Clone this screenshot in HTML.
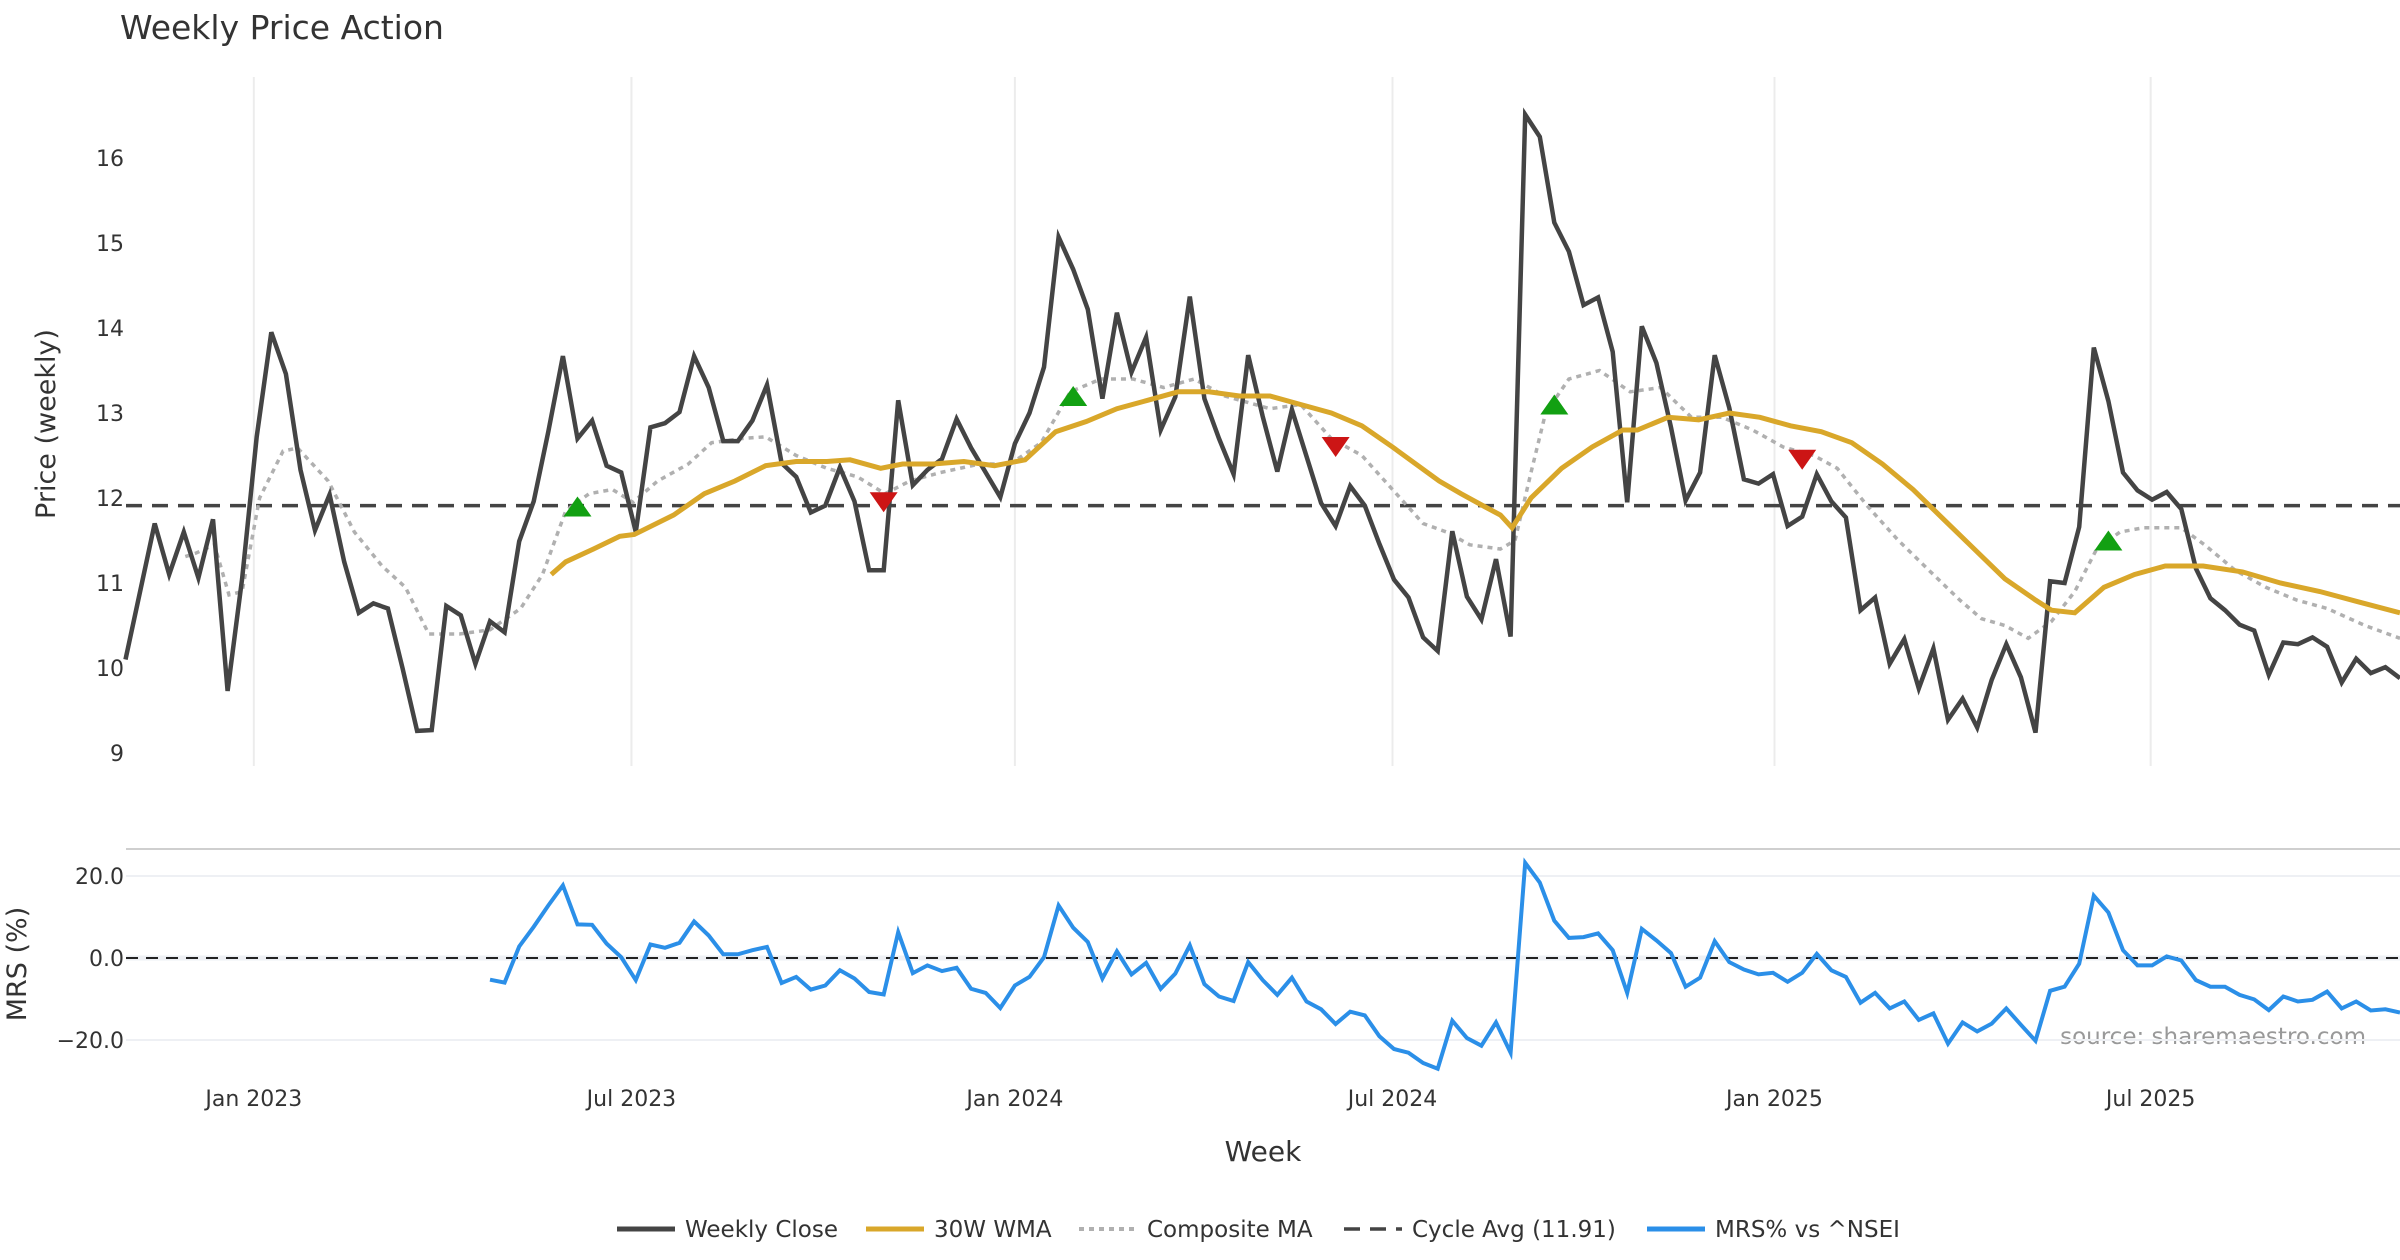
<!DOCTYPE html>
<html><head><meta charset="utf-8">
<style>
html,body{margin:0;padding:0;background:#fff;}
svg{display:block;font-family:"DejaVu Sans","Liberation Sans",sans-serif;}
</style></head>
<body>
<svg id="chart" width="2400" height="1260" viewBox="0 0 2400 1260" xmlns="http://www.w3.org/2000/svg">
<text x="120" y="39" font-size="33" fill="#333">Weekly Price Action</text>
<text transform="translate(55,424) rotate(-90)" text-anchor="middle" font-size="27" fill="#333">Price (weekly)</text>
<text transform="translate(26,964) rotate(-90)" text-anchor="middle" font-size="27" fill="#333">MRS (%)</text>
<text x="1263" y="1161" text-anchor="middle" font-size="28" fill="#333">Week</text>
<line x1="126" y1="849" x2="2400" y2="849" stroke="#cfcfcf" stroke-width="2"/>
<text x="2366" y="1044" text-anchor="end" font-size="23" fill="#999">source: sharemaestro.com</text>
<g id="grid"></g><g id="marks"></g><g id="legend"></g>
</svg>
<script>
const closeVals=[10.10,10.9,11.70,11.10,11.60,11.06,11.75,9.73,11.05,12.72,13.95,13.46,12.33,11.62,12.04,11.25,10.65,10.76,10.70,10.0,9.26,9.27,10.73,10.62,10.05,10.55,10.42,11.49,11.96,12.78,13.67,12.70,12.91,12.38,12.30,11.60,12.83,12.88,13.01,13.67,13.30,12.67,12.67,12.91,13.33,12.41,12.25,11.83,11.91,12.36,11.96,11.15,11.15,13.15,12.15,12.33,12.46,12.93,12.59,12.30,12.01,12.64,13.0,13.54,15.07,14.69,14.22,13.17,14.18,13.48,13.89,12.80,13.19,14.37,13.17,12.70,12.28,13.68,12.96,12.31,13.04,12.49,11.94,11.67,12.14,11.91,11.46,11.04,10.83,10.36,10.20,11.61,10.84,10.57,11.28,10.37,16.51,16.25,15.24,14.90,14.27,14.36,13.72,11.95,14.02,13.59,12.83,11.97,12.30,13.68,13.06,12.22,12.17,12.28,11.67,11.78,12.28,11.96,11.77,10.68,10.83,10.05,10.34,9.76,10.23,9.39,9.64,9.30,9.86,10.28,9.89,9.24,11.02,11.0,11.66,13.77,13.14,12.30,12.09,11.98,12.07,11.87,11.17,10.82,10.68,10.51,10.44,9.92,10.30,10.28,10.36,10.25,9.83,10.11,9.94,10.01,9.88];
const wmaWeeks=[29.2,30.2,32.1,33.9,34.9,37.6,39.7,41.8,43.9,46.0,48.1,49.7,51.8,53.3,55.4,57.5,59.6,61.7,63.8,65.9,68.0,70.1,72.2,74.3,76.4,78.5,80.6,82.7,84.8,86.9,88.5,90.1,91.6,93.2,94.3,95.1,96.4,98.5,100.6,102.7,103.7,105.8,107.9,110.0,112.1,114.2,116.3,118.4,120.5,122.6,124.7,126.8,128.9,131.0,132.1,133.7,135.7,137.8,139.9,142.5,145.2,147.8,150.5,153.1,156];
const wmaVals=[11.1,11.25,11.4,11.55,11.57,11.8,12.05,12.2,12.38,12.43,12.43,12.45,12.35,12.4,12.4,12.43,12.38,12.45,12.78,12.9,13.05,13.15,13.25,13.25,13.2,13.2,13.1,13.0,12.85,12.6,12.4,12.2,12.05,11.9,11.8,11.65,12.0,12.35,12.6,12.8,12.8,12.95,12.92,13.0,12.95,12.85,12.78,12.65,12.4,12.1,11.75,11.4,11.05,10.8,10.68,10.65,10.95,11.1,11.2,11.2,11.13,11.0,10.9,10.78,10.65];
const compWeeks=[4.1,4.8,6.1,7.1,8.0,9.2,10.8,11.8,13.9,15.7,17.6,19.2,20.8,22.9,25.0,27.1,28.6,30.2,31.8,33.4,34.8,36.5,38.6,40.2,42.3,43.9,46.0,48.1,50.2,52.1,53.8,55.9,58.6,60.7,62.8,64.8,66.9,69.1,71.2,73.3,75.4,78.5,80.6,82.7,84.8,86.9,89.0,90.6,92.2,94.3,95.3,96.4,97.4,99.0,101.1,103.2,105.3,107.4,109.5,111.6,113.7,115.8,117.4,119.5,121.6,123.7,125.8,127.3,128.9,130.5,132.1,133.7,135.2,136.8,138.4,141.0,142.6,144.7,146.8,148.9,151.0,153.6,156];
const compVals=[11.31,11.35,11.45,10.86,10.9,12.0,12.55,12.59,12.2,11.6,11.2,10.95,10.4,10.4,10.45,10.7,11.1,11.85,12.05,12.1,11.95,12.2,12.4,12.65,12.7,12.72,12.5,12.35,12.25,12.05,12.2,12.3,12.4,12.4,12.65,13.25,13.4,13.4,13.3,13.4,13.2,13.05,13.1,12.7,12.5,12.1,11.7,11.6,11.45,11.4,11.5,12.3,13.0,13.4,13.5,13.25,13.3,12.95,12.95,12.8,12.6,12.5,12.35,11.9,11.5,11.15,10.8,10.58,10.5,10.35,10.55,10.9,11.4,11.6,11.65,11.65,11.45,11.15,10.95,10.8,10.7,10.5,10.35];
const mrsStart=25;
const mrsVals=[-5.3,-6.0,2.8,7.6,12.8,17.7,8.2,8.1,3.5,0.2,-5.4,3.3,2.5,3.7,8.9,5.5,0.9,0.9,1.9,2.7,-6.1,-4.6,-7.7,-6.7,-3.0,-5.0,-8.3,-8.9,6.3,-3.7,-1.8,-3.2,-2.4,-7.5,-8.5,-12.2,-6.7,-4.6,0.2,12.8,7.4,3.9,-5.0,1.6,-4.0,-1.2,-7.5,-3.8,3.1,-6.4,-9.4,-10.5,-1.0,-5.4,-9.0,-4.8,-10.6,-12.5,-16.1,-13.1,-14.0,-19.1,-22.2,-23.1,-25.6,-27.0,-15.3,-19.5,-21.4,-15.7,-23.1,23.2,18.4,9.1,4.9,5.1,6.0,1.9,-8.5,7.1,4.3,1.2,-7.0,-4.8,4.1,-1.0,-2.8,-4.0,-3.6,-5.8,-3.6,1.0,-3.0,-4.6,-10.9,-8.5,-12.3,-10.6,-15.1,-13.5,-20.9,-15.7,-17.9,-16.0,-12.3,-16.3,-20.2,-8.0,-7.0,-1.4,15.2,11.1,1.9,-1.8,-1.8,0.4,-0.6,-5.4,-7.0,-7.0,-9.0,-10.1,-12.7,-9.4,-10.6,-10.2,-8.2,-12.3,-10.6,-12.8,-12.5,-13.3];
const buyWeeks=[31,65,98,136];
const buyVals=[11.9,13.2,13.1,11.5];
const sellWeeks=[52,83,115];
const sellVals=[11.95,12.6,12.45];
const cycleAvg=11.91;
const priceTicks=[9,10,11,12,13,14,15,16];
const mrsTicks=[20,0,-20];
const mrsTickLabels=["20.0","0.0","\u221220.0"];
const xTickLabels=["Jan 2023","Jul 2023","Jan 2024","Jul 2024","Jan 2025","Jul 2025"];
const xTickWeeks=[8.8,34.7,61.0,86.9,113.1,138.9];

const NS="http://www.w3.org/2000/svg";
const xs=k=>125.5+14.58*k;
const yp=v=>158+(16-v)*85;
const ym=v=>958-v*4.1;
function mk(tag,attrs,parent,text){const e=document.createElementNS(NS,tag);for(const a in attrs)e.setAttribute(a,attrs[a]);if(text!==undefined)e.textContent=text;parent.appendChild(e);return e;}
const grid=document.getElementById('grid'),marks=document.getElementById('marks'),legend=document.getElementById('legend');

xTickWeeks.forEach((w,i)=>{
  const g=mk('line',{x1:xs(w),x2:xs(w),y1:77,y2:766,stroke:'#ececec','stroke-width':2},grid);
  
  
  const t=mk('text',{x:xs(w),y:1106,'text-anchor':'middle','font-size':22,fill:'#333'},grid,xTickLabels[i]);
  
  
});
priceTicks.forEach(v=>{
  const t=mk('text',{x:124,y:yp(v)+8,'text-anchor':'end','font-size':22,fill:'#333'},grid,String(v));
  
  
});
mrsTicks.forEach((v,i)=>{
  const l=mk('line',{x1:126,x2:2400,y1:ym(v),y2:ym(v),stroke:'#eef0f4','stroke-width':v===0?5:2},grid);
  
  
  const t=mk('text',{x:124,y:ym(v)+8,'text-anchor':'end','font-size':22,fill:'#333'},grid,mrsTickLabels[i]);
  
  
});
const zl=mk('line',{x1:126,x2:2400,y1:ym(0),y2:ym(0),stroke:'#222','stroke-width':2,'stroke-dasharray':'12,8'},grid);



const ca=mk('line',{x1:126,x2:2400,y1:yp(cycleAvg),y2:yp(cycleAvg),stroke:'#444','stroke-width':3.5,'stroke-dasharray':'16,10'},marks);



function pathFrom(ws,vs,fy){return vs.map((v,i)=>(i?'L':'M')+xs(ws[i]).toFixed(1)+','+fy(v).toFixed(1)).join(' ');}
const comp=mk('path',{d:pathFrom(compWeeks,compVals,yp),fill:'none',stroke:'#b0b0b0','stroke-width':3.5,'stroke-dasharray':'5,5'},marks);


const cl=mk('path',{d:pathFrom(closeVals.map((_,i)=>i),closeVals,yp),fill:'none',stroke:'#444','stroke-width':4.5,'stroke-linejoin':'miter'},marks);


const wl=mk('path',{d:pathFrom(wmaWeeks,wmaVals,yp),fill:'none',stroke:'#d9a72a','stroke-width':5},marks);


const ml=mk('path',{d:pathFrom(mrsVals.map((_,i)=>i+mrsStart),mrsVals,ym),fill:'none',stroke:'#2b8fe8','stroke-width':4},marks);



buyWeeks.forEach((w,i)=>{
  const x=xs(w),y=yp(buyVals[i]);
  const p=mk('polygon',{points:`${x-14},${y+10} ${x+14},${y+10} ${x},${y-10}`,fill:'#12a012'},marks);
  
  
});
sellWeeks.forEach((w,i)=>{
  const x=xs(w),y=yp(sellVals[i]);
  const p=mk('polygon',{points:`${x-14},${y-10} ${x+14},${y-10} ${x},${y+10}`,fill:'#cc1515'},marks);
  
  
});

const legItems=[
 {x:617,label:'Weekly Close',stroke:'#444',dash:'',w:5,name:'legend-weekly-close'},
 {x:866,label:'30W WMA',stroke:'#d9a72a',dash:'',w:5,name:'legend-wma'},
 {x:1079,label:'Composite MA',stroke:'#b0b0b0',dash:'5,5',w:4,name:'legend-composite-ma'},
 {x:1344,label:'Cycle Avg (11.91)',stroke:'#444',dash:'16,10',w:3.5,name:'legend-cycle-avg'},
 {x:1647,label:'MRS% vs ^NSEI',stroke:'#2b8fe8',dash:'',w:5,name:'legend-mrs'}
];
legItems.forEach(it=>{
  const g=mk('g',{},legend);
  
  
  mk('line',{x1:it.x,x2:it.x+58,y1:1229,y2:1229,stroke:it.stroke,'stroke-width':it.w,'stroke-dasharray':it.dash},g);
  mk('text',{x:it.x+68,y:1237,'font-size':23,fill:'#333'},g,it.label);
});
</script>
</body></html>
